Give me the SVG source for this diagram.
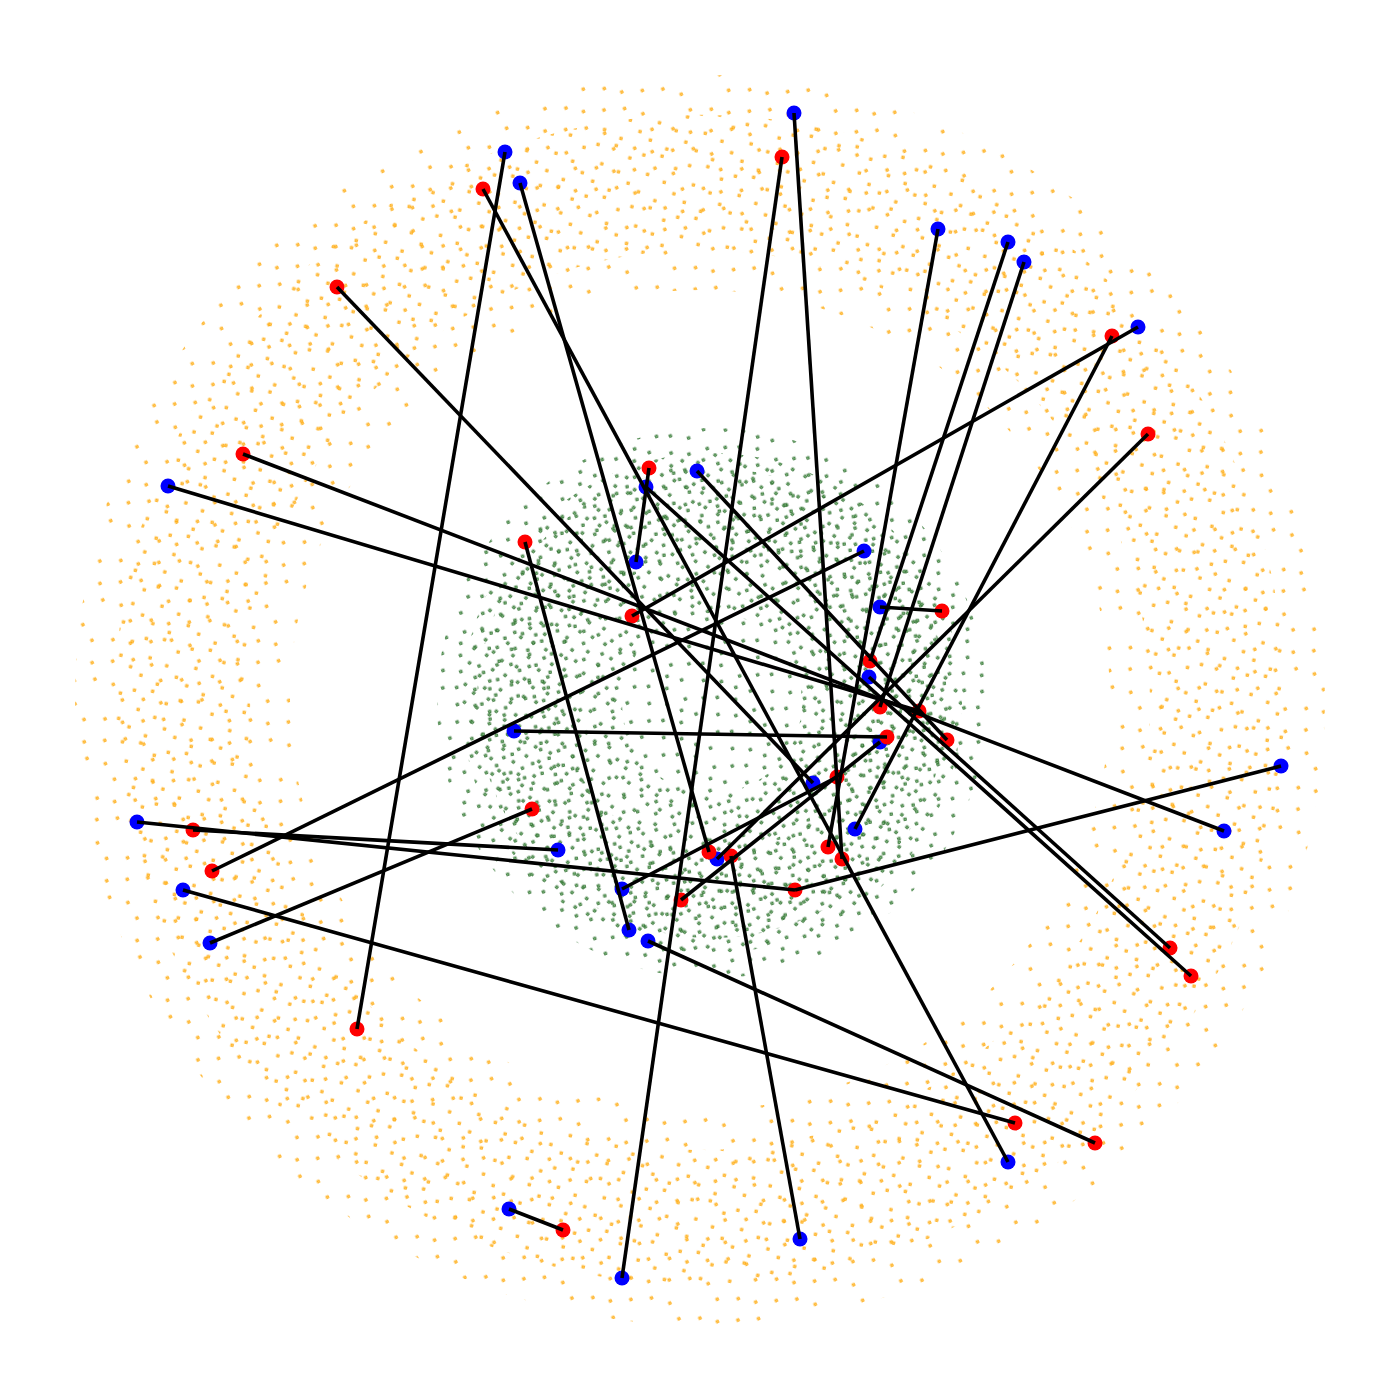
<svg xmlns="http://www.w3.org/2000/svg" width="1400" height="1400" viewBox="0 0 1400 1400">
<style>
.o{fill:#ffc860;stroke:#ffa500;stroke-width:.7}
.g{fill:#7db57d;stroke:#1f631f;stroke-width:.7}
.r{fill:#ff0000}
.b{fill:#0000ff}
#connectors line{stroke:#000;stroke-width:3.6;stroke-linecap:butt}
</style>
<defs>
<pattern id="oA" width="47" height="53" patternUnits="userSpaceOnUse" patternTransform="rotate(13)">
<rect class="o" x="3" y="5" width="2.4" height="2.4"/><rect class="o" x="21" y="2" width="2.4" height="2.4"/><rect class="o" x="37" y="11" width="2.4" height="2.4"/><rect class="o" x="11" y="23" width="2.4" height="2.4"/><rect class="o" x="29" y="27" width="2.4" height="2.4"/><rect class="o" x="6" y="42" width="2.4" height="2.4"/><rect class="o" x="24" y="47" width="2.4" height="2.4"/><rect class="o" x="41" y="36" width="2.4" height="2.4"/>
</pattern>
<pattern id="oC" width="43" height="67" patternUnits="userSpaceOnUse" patternTransform="rotate(-27)">
<rect class="o" x="5" y="8" width="2.4" height="2.4"/><rect class="o" x="24" y="17" width="2.4" height="2.4"/><rect class="o" x="14" y="36" width="2.4" height="2.4"/><rect class="o" x="33" y="44" width="2.4" height="2.4"/><rect class="o" x="4" y="57" width="2.4" height="2.4"/><rect class="o" x="38" y="28" width="2.4" height="2.4"/>
</pattern>
<pattern id="gA" width="41" height="43" patternUnits="userSpaceOnUse" patternTransform="rotate(41)">
<rect class="g" x="3" y="5" width="2.4" height="2.4"/><rect class="g" x="17" y="2" width="2.4" height="2.4"/><rect class="g" x="31" y="9" width="2.4" height="2.4"/><rect class="g" x="9" y="19" width="2.4" height="2.4"/><rect class="g" x="25" y="22" width="2.4" height="2.4"/><rect class="g" x="37" y="28" width="2.4" height="2.4"/><rect class="g" x="6" y="34" width="2.4" height="2.4"/><rect class="g" x="20" y="38" width="2.4" height="2.4"/><rect class="g" x="32" y="39" width="2.4" height="2.4"/>
</pattern>
<pattern id="gB" width="53" height="47" patternUnits="userSpaceOnUse" patternTransform="rotate(-8)">
<rect class="g" x="7" y="11" width="2.4" height="2.4"/><rect class="g" x="22" y="4" width="2.4" height="2.4"/><rect class="g" x="44" y="8" width="2.4" height="2.4"/><rect class="g" x="13" y="27" width="2.4" height="2.4"/><rect class="g" x="30" y="18" width="2.4" height="2.4"/><rect class="g" x="49" y="30" width="2.4" height="2.4"/><rect class="g" x="4" y="41" width="2.4" height="2.4"/><rect class="g" x="26" y="36" width="2.4" height="2.4"/><rect class="g" x="39" y="43" width="2.4" height="2.4"/><rect class="g" x="17" y="44" width="2.4" height="2.4"/>
</pattern>
<pattern id="gC" width="37" height="59" patternUnits="userSpaceOnUse" patternTransform="rotate(67)">
<rect class="g" x="5" y="8" width="2.4" height="2.4"/><rect class="g" x="20" y="14" width="2.4" height="2.4"/><rect class="g" x="31" y="3" width="2.4" height="2.4"/><rect class="g" x="12" y="30" width="2.4" height="2.4"/><rect class="g" x="28" y="37" width="2.4" height="2.4"/><rect class="g" x="3" y="50" width="2.4" height="2.4"/><rect class="g" x="22" y="54" width="2.4" height="2.4"/><rect class="g" x="33" y="24" width="2.4" height="2.4"/>
</pattern>
</defs>
<rect width="1400" height="1400" fill="#ffffff"/>
<g id="scatter">
<path fill="url(#oC)" fill-rule="evenodd" d="M75,700a625,625 0 1 0 1250,0a625,625 0 1 0 -1250,0Z M290,700a410,410 0 1 0 820,0a410,410 0 1 0 -820,0Z"/>
<path fill="url(#oA)" fill-rule="evenodd" d="M115,700a585,585 0 1 0 1170,0a585,585 0 1 0 -1170,0Z M250,700a450,450 0 1 0 900,0a450,450 0 1 0 -900,0Z"/>
<path fill="url(#gC)" d="M437,703a275,275 0 1 0 550,0a275,275 0 1 0 -550,0Z"/>
<path fill="url(#gA)" fill-rule="evenodd" d="M462,703a250,250 0 1 0 500,0a250,250 0 1 0 -500,0Z M622,703a90,90 0 1 0 180,0a90,90 0 1 0 -180,0Z"/>
<path fill="url(#gB)" fill-rule="evenodd" d="M477,703a235,235 0 1 0 470,0a235,235 0 1 0 -470,0Z M562,703a150,150 0 1 0 300,0a150,150 0 1 0 -300,0Z"/>
</g>
<g id="nodes">
<g id="b1"><circle class="b" cx="794" cy="113" r="7.5"/></g>
<g id="b2"><circle class="b" cx="505" cy="152" r="7.5"/></g>
<g id="b3"><circle class="b" cx="520" cy="183" r="7.5"/></g>
<g id="b4"><circle class="b" cx="938" cy="229" r="7.5"/></g>
<g id="b5"><circle class="b" cx="1008" cy="242" r="7.5"/></g>
<g id="b6"><circle class="b" cx="1024" cy="262" r="7.5"/></g>
<g id="b7"><circle class="b" cx="1138" cy="327" r="7.5"/></g>
<g id="b8"><circle class="b" cx="168" cy="486" r="7.5"/></g>
<g id="b9"><circle class="b" cx="697" cy="471" r="7.5"/></g>
<g id="b10"><circle class="b" cx="646" cy="487" r="7.5"/></g>
<g id="b11"><circle class="b" cx="636" cy="562" r="7.5"/></g>
<g id="b12"><circle class="b" cx="864" cy="551" r="7.5"/></g>
<g id="b13"><circle class="b" cx="880" cy="607" r="7.5"/></g>
<g id="b14"><circle class="b" cx="869" cy="677" r="7.5"/></g>
<g id="b15"><circle class="b" cx="514" cy="731" r="7.5"/></g>
<g id="b16"><circle class="b" cx="880" cy="742" r="7.5"/></g>
<g id="b17"><circle class="b" cx="813" cy="783" r="7.5"/></g>
<g id="b18"><circle class="b" cx="855" cy="829" r="7.5"/></g>
<g id="b19"><circle class="b" cx="558" cy="850" r="7.5"/></g>
<g id="b20"><circle class="b" cx="137" cy="822" r="7.5"/></g>
<g id="b21"><circle class="b" cx="183" cy="890" r="7.5"/></g>
<g id="b22"><circle class="b" cx="622" cy="889" r="7.5"/></g>
<g id="b23"><circle class="b" cx="717" cy="859" r="7.5"/></g>
<g id="b24"><circle class="b" cx="629" cy="930" r="7.5"/></g>
<g id="b25"><circle class="b" cx="648" cy="941" r="7.5"/></g>
<g id="b26"><circle class="b" cx="210" cy="943" r="7.5"/></g>
<g id="b27"><circle class="b" cx="1224" cy="831" r="7.5"/></g>
<g id="b28"><circle class="b" cx="1281" cy="766" r="7.5"/></g>
<g id="b29"><circle class="b" cx="1008" cy="1162" r="7.5"/></g>
<g id="b30"><circle class="b" cx="509" cy="1209" r="7.5"/></g>
<g id="b31"><circle class="b" cx="800" cy="1239" r="7.5"/></g>
<g id="b32"><circle class="b" cx="622" cy="1278" r="7.5"/></g>
<g id="r1"><circle class="r" cx="782" cy="157" r="7.5"/></g>
<g id="r2"><circle class="r" cx="483" cy="189" r="7.5"/></g>
<g id="r3"><circle class="r" cx="337" cy="287" r="7.5"/></g>
<g id="r4"><circle class="r" cx="1112" cy="336" r="7.5"/></g>
<g id="r5"><circle class="r" cx="1148" cy="434" r="7.5"/></g>
<g id="r6"><circle class="r" cx="243" cy="454" r="7.5"/></g>
<g id="r7"><circle class="r" cx="649" cy="468" r="7.5"/></g>
<g id="r8"><circle class="r" cx="525" cy="542" r="7.5"/></g>
<g id="r9"><circle class="r" cx="632" cy="616" r="7.5"/></g>
<g id="r10"><circle class="r" cx="942" cy="611" r="7.5"/></g>
<g id="r11"><circle class="r" cx="870" cy="661" r="7.5"/></g>
<g id="r12"><circle class="r" cx="880" cy="707" r="7.5"/></g>
<g id="r13"><circle class="r" cx="919" cy="711" r="7.5"/></g>
<g id="r14"><circle class="r" cx="947" cy="740" r="7.5"/></g>
<g id="r15"><circle class="r" cx="887" cy="737" r="7.5"/></g>
<g id="r16"><circle class="r" cx="837" cy="777" r="7.5"/></g>
<g id="r17"><circle class="r" cx="532" cy="809" r="7.5"/></g>
<g id="r18"><circle class="r" cx="193" cy="830" r="7.5"/></g>
<g id="r19"><circle class="r" cx="212" cy="871" r="7.5"/></g>
<g id="r20"><circle class="r" cx="709" cy="852" r="7.5"/></g>
<g id="r21"><circle class="r" cx="731" cy="856" r="7.5"/></g>
<g id="r22"><circle class="r" cx="681" cy="900" r="7.5"/></g>
<g id="r23"><circle class="r" cx="828" cy="847" r="7.5"/></g>
<g id="r24"><circle class="r" cx="842" cy="859" r="7.5"/></g>
<g id="r25"><circle class="r" cx="795" cy="890" r="7.5"/></g>
<g id="r26"><circle class="r" cx="1170" cy="948" r="7.5"/></g>
<g id="r27"><circle class="r" cx="1191" cy="976" r="7.5"/></g>
<g id="r28"><circle class="r" cx="357" cy="1029" r="7.5"/></g>
<g id="r29"><circle class="r" cx="1015" cy="1123" r="7.5"/></g>
<g id="r30"><circle class="r" cx="1095" cy="1143" r="7.5"/></g>
<g id="r31"><circle class="r" cx="563" cy="1230" r="7.5"/></g>
</g>
<g id="connectors">
<line x1="794" y1="113" x2="842" y2="859"/>
<line x1="782" y1="157" x2="622" y2="1278"/>
<line x1="505" y1="152" x2="357" y2="1029"/>
<line x1="520" y1="183" x2="709" y2="852"/>
<line x1="483" y1="189" x2="1008" y2="1162"/>
<line x1="337" y1="287" x2="813" y2="783"/>
<line x1="938" y1="229" x2="828" y2="847"/>
<line x1="1008" y1="242" x2="870" y2="661"/>
<line x1="1024" y1="262" x2="880" y2="707"/>
<line x1="1138" y1="327" x2="632" y2="616"/>
<line x1="1112" y1="336" x2="855" y2="829"/>
<line x1="1148" y1="434" x2="717" y2="859"/>
<line x1="243" y1="454" x2="1224" y2="831"/>
<line x1="168" y1="486" x2="919" y2="711"/>
<line x1="697" y1="471" x2="947" y2="740"/>
<line x1="646" y1="487" x2="1191" y2="976"/>
<line x1="869" y1="677" x2="1170" y2="948"/>
<line x1="636" y1="562" x2="649" y2="468"/>
<line x1="864" y1="551" x2="212" y2="871"/>
<line x1="880" y1="607" x2="942" y2="611"/>
<line x1="514" y1="731" x2="887" y2="737"/>
<line x1="681" y1="900" x2="880" y2="742"/>
<line x1="622" y1="889" x2="837" y2="777"/>
<line x1="525" y1="542" x2="629" y2="930"/>
<line x1="532" y1="809" x2="210" y2="943"/>
<line x1="193" y1="830" x2="558" y2="850"/>
<line x1="137" y1="822" x2="795" y2="890"/>
<line x1="183" y1="890" x2="1015" y2="1123"/>
<line x1="648" y1="941" x2="1095" y2="1143"/>
<line x1="1281" y1="766" x2="795" y2="890"/>
<line x1="509" y1="1209" x2="563" y2="1230"/>
<line x1="800" y1="1239" x2="731" y2="856"/>
</g>
</svg>
